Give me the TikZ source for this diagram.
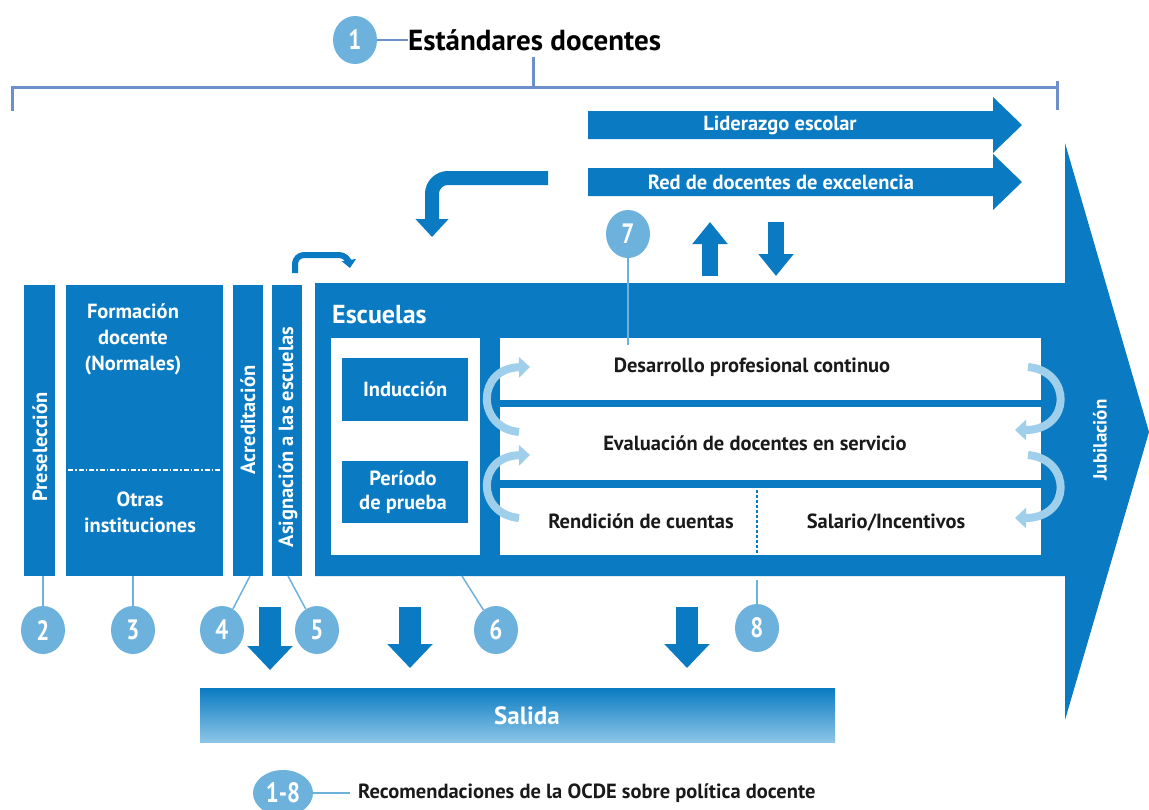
\documentclass[tikz,border=0pt]{standalone}
\usepackage{fontspec}
\setmainfont{PT Sans}
\newfontfamily\numfont{PT Sans}[FakeStretch=0.82]
\usetikzlibrary{shapes.geometric,arrows.meta}
\definecolor{mainblue}{HTML}{0A7BC2}
\definecolor{circblue}{HTML}{6CB2DC}
\definecolor{arcblue}{HTML}{9FCFEA}
\definecolor{brack}{HTML}{6F8FCB}
\definecolor{salidalight}{HTML}{8CC5E7}
\definecolor{txtdark}{HTML}{1A1A1A}
\begin{document}
\begin{tikzpicture}[x=1pt,y=-1pt,
  numc/.style={ellipse, fill=circblue, minimum width=44pt, minimum height=48pt, inner sep=0pt, text=white, font=\numfont\bfseries\fontsize{28}{28}\selectfont},
  link/.style={draw=circblue, line width=1.5pt},
  col/.style={fill=mainblue, draw=none, inner sep=0pt, anchor=north west},
  wbox/.style={fill=white, draw=none, inner sep=0pt, anchor=north west},
  wlbl/.style={text=white, font=\bfseries\fontsize{20.5}{25}\selectfont, align=center, inner sep=0pt},
  blbl/.style={text=txtdark, font=\bfseries\fontsize{20.5}{24}\selectfont, align=center, inner sep=0pt},
  fatarrow/.style={draw=mainblue, line width=16pt, -{Triangle[width=34pt,length=22pt]}},
  outarrow/.style={draw=mainblue, line width=22pt, -{Triangle[width=44pt,length=24pt]}},
  arcarrow/.style={draw=arcblue, line width=8pt, -{Triangle[width=20pt,length=11pt]}},
]
\useasboundingbox (0,0) rectangle (1149,809);

% ---------- title and bracket ----------
\node[numc] (c1) at (355,40) {1};
\node[anchor=west, text=black, font=\bfseries\fontsize{29}{31}\selectfont, inner sep=0pt] (std) at (408,40) {Estándares docentes};
\draw[draw=brack, line width=1.5pt] (c1) -- (std);
\coordinate (bl) at (12,87);
\coordinate (br) at (1057,87);
\coordinate (bm) at (533,87);
\draw[draw=brack, line width=3pt] (bl) -- (br);
\draw[draw=brack, line width=3pt] (12,85.5) -- (12,111);
\draw[draw=brack, line width=3pt] (1057,81) -- (1057,110);
\draw[draw=brack, line width=3pt] (bm) -- (533,57);

% ---------- top arrows ----------
\fill[mainblue] (588,111) -- (993,111) -- (993,97) -- (1022,125) -- (993,153) -- (993,139) -- (588,139) -- cycle;
\node[wlbl] (lider) at (780,125) {Liderazgo escolar};
\fill[mainblue] (588,168) -- (993,168) -- (993,154) -- (1022,182) -- (993,210) -- (993,196) -- (588,196) -- cycle;
\node[wlbl] (red) at (781,182) {Red de docentes de excelencia};

\coordinate (hookstart) at (548,178);
\coordinate (hookend) at (432,237);
\draw[draw=mainblue, line width=14pt, rounded corners=16pt, -{Triangle[width=32pt,length=18pt]}] (hookstart) -| (hookend);

\coordinate (upb) at (710,276);
\coordinate (upt) at (710,222);
\draw[fatarrow] (upb) -- (upt);
\coordinate (dnt) at (776,222);
\coordinate (dnb) at (776,276);
\draw[fatarrow] (dnt) -- (dnb);

% ---------- big arrow body ----------
\fill[mainblue] (315,283) -- (1065,283) -- (1065,143) -- (1149,432) -- (1065,720) -- (1065,576) -- (315,576) -- cycle;
\node[anchor=west, text=white, font=\bfseries\fontsize{26}{28}\selectfont, inner sep=0pt] (esc) at (332,315) {Escuelas};
\node[text=white, font=\bfseries\fontsize{19}{22}\selectfont, rotate=90, inner sep=0pt] (jub) at (1100,440) {Jubilación};

% left white box
\node[wbox, minimum width=149pt, minimum height=217pt] (lbox) at (331,338) {};
\node[col, minimum width=126pt, minimum height=63pt] (ind) at (342,358) {};
\node[wlbl] (indt) at (ind.center) {Inducción};
\node[col, minimum width=126pt, minimum height=62pt] (per) at (342,461) {};
\node[wlbl] (pert) at (403,492) {Período\\[-1pt]de prueba};

% right white rows
\node[wbox, minimum width=541pt, minimum height=62pt] (dpc) at (500,338) {};
\node[blbl] (dpct) at (752,367) {Desarrollo profesional continuo};
\node[wbox, minimum width=541pt, minimum height=73pt] (eval) at (500,407) {};
\node[blbl] (evalt) at (755,443) {Evaluación de docentes en servicio};
\node[wbox, minimum width=541pt, minimum height=67pt] (rend) at (500,488) {};
\node[blbl] (rendt) at (641,521) {Rendición de cuentas};
\node[blbl] (salt) at (886,523) {Salario/Incentivos};
\coordinate (sepT) at (757,490);
\coordinate (sepB) at (757,555);
\draw[draw=mainblue, line width=2pt, dash pattern=on 3pt off 2pt] (sepT) -- (sepB);

% light blue cycle arrows
\draw[arcarrow] (519,432) .. controls (476,428) and (476,368) .. (530,367);
\draw[arcarrow] (519,518) .. controls (476,514) and (476,456) .. (530,455);
\draw[arcarrow] (1028,367) .. controls (1072,371) and (1072,430) .. (1015,430);
\draw[arcarrow] (1028,455) .. controls (1072,459) and (1072,518) .. (1015,518);

% ---------- left columns ----------
\node[col, minimum width=31pt, minimum height=291pt] (presel) at (24,285) {};
\node[wlbl, rotate=90] (preselt) at (40,447) {Preselección};
\node[col, minimum width=157pt, minimum height=291pt] (form) at (66,285) {};
\node[wlbl, font=\bfseries\fontsize{20.5}{26}\selectfont] (formt) at (133,339) {Formación\\docente\\(Normales)};
\node[wlbl, font=\bfseries\fontsize{20.5}{26}\selectfont] (otras) at (140,512) {Otras\\instituciones};
\coordinate (dl) at (68,470);
\coordinate (dr) at (221,470);
\draw[draw=white, line width=2pt, dash pattern=on 5pt off 2pt on 1.5pt off 2pt] (dl) -- (dr);
\node[col, minimum width=30pt, minimum height=291pt] (acred) at (233,285) {};
\node[wlbl, rotate=90] (acredt) at (248,420) {Acreditación};
\node[col, minimum width=30pt, minimum height=291pt] (asig) at (272,285) {};
\node[wlbl, rotate=90] (asigt) at (288,437) {Asignación a las escuelas};

\coordinate (asA) at (295,273);
\coordinate (asB) at (350,268);
\draw[draw=mainblue, line width=6pt, rounded corners=9pt, -{Triangle[width=14pt,length=8pt]}] (asA) |- (348,255) -- (asB);

% ---------- bottom circles ----------
\node[numc] (c2) at (43,630) {2};
\node[numc] (c3) at (133,630) {3};
\node[numc] (c4) at (222,630) {4};
\node[numc] (c5) at (317,630) {5};
\node[numc] (c6) at (496,630) {6};
\node[numc] (c8) at (757,628) {8};
\node[numc] (c7) at (628,234) {7};
\coordinate (p2) at (43,576);
\coordinate (p3) at (133,576);
\coordinate (p4) at (250,576);
\coordinate (p5) at (288,576);
\coordinate (p6) at (462,576);
\coordinate (p8) at (757,580);
\coordinate (p7) at (628,345);
\draw[link] (c2) -- (p2);
\draw[link] (c3) -- (p3);
\draw[link] (c4) -- (p4);
\draw[link] (c5) -- (p5);
\draw[link] (c6) -- (p6);
\draw[link] (c8) -- (p8);
\draw[link] (c7) -- (p7);

% ---------- exits ----------
\coordinate (o1a) at (270,607);
\coordinate (o1b) at (270,670);
\coordinate (o2a) at (410,607);
\coordinate (o2b) at (410,668);
\coordinate (o3a) at (687,607);
\coordinate (o3b) at (687,668);
\draw[outarrow] (o1a) -- (o1b);
\draw[outarrow] (o2a) -- (o2b);
\draw[outarrow] (o3a) -- (o3b);

\shade[top color=mainblue, bottom color=salidalight] (200,688) rectangle (835,742);
\node[wlbl, font=\bfseries\fontsize{25}{28}\selectfont] (salida) at (527,716) {Salida};

% ---------- legend ----------
\node[numc, minimum width=60pt, minimum height=46pt] (c18) at (283,793) {1-8};
\node[anchor=west, text=txtdark, font=\bfseries\fontsize{20.5}{22}\selectfont, inner sep=0pt] (leg) at (358,793) {Recomendaciones de la OCDE sobre política docente};
\draw[link] (c18) -- ([xshift=-8pt]leg.west);
\end{tikzpicture}
\end{document}
